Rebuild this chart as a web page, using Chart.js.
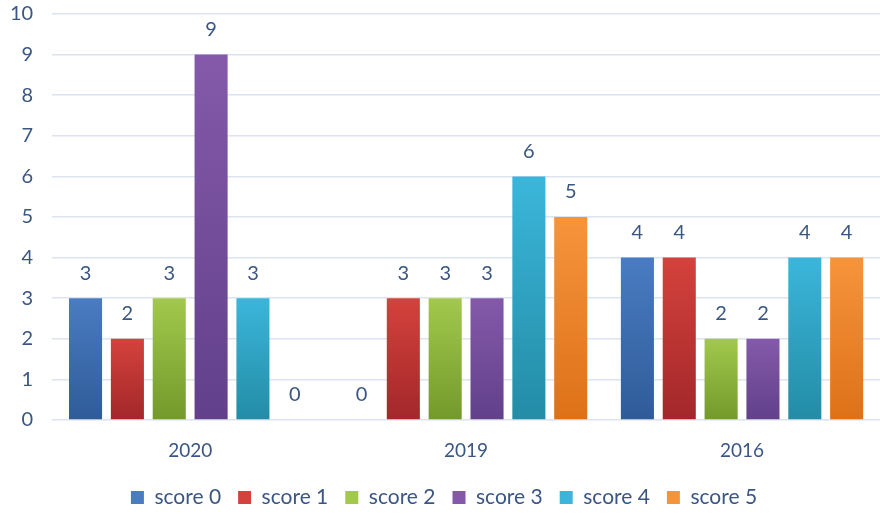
<!DOCTYPE html>
<html lang="en">
<head>
    <meta charset="UTF-8">
    <title>Scores by year</title>
    <script src="https://cdn.jsdelivr.net/npm/chart.js"></script>
    <style>
        html, body { margin: 0; padding: 0; background: #fff; }
        #wrap { width: 880px; height: 514px; }
    </style>
</head>
<body>
    <div id="wrap"><canvas id="scoreChart" width="880" height="514"></canvas></div>

    <script>
        // Data
        const years = ['2020', '2019', '2016'];
        const seriesNames = ['score 0', 'score 1', 'score 2', 'score 3', 'score 4', 'score 5'];
        const score0 = [3, 0, 4];
        const score1 = [2, 3, 4];
        const score2 = [3, 3, 2];
        const score3 = [9, 3, 2];
        const score4 = [3, 6, 4];
        const score5 = [0, 5, 4];

        // top / bottom shades for the bar gradients
        const topColors = ['#4a7cc2', '#d4423c', '#a2c94c', '#8459aa', '#3bb6da', '#f6943c'];
        const bottomColors = ['#2f5b98', '#a3272a', '#73992b', '#62408a', '#238ca6', '#dd7118'];

        const textColor = '#3a5683';
        const fontFamily = 'Lato, "Open Sans", sans-serif';

        function barGradient(ctx, i) {
            const chart = ctx.chart;
            const area = chart.chartArea;
            if (!area || ctx.parsed === undefined) return topColors[i];
            const yScale = chart.scales.y;
            const top = yScale.getPixelForValue(ctx.parsed.y);
            const bottom = yScale.getPixelForValue(0);
            if (bottom - top < 1) return topColors[i];
            const g = chart.ctx.createLinearGradient(0, top, 0, bottom);
            g.addColorStop(0, topColors[i]);
            g.addColorStop(1, bottomColors[i]);
            return g;
        }

        const allSeries = [score0, score1, score2, score3, score4, score5];
        const datasets = allSeries.map((vals, i) => ({
            label: seriesNames[i],
            data: vals,
            backgroundColor: ctx => barGradient(ctx, i),
            borderWidth: 0,
            barPercentage: 0.79,
            categoryPercentage: 0.91
        }));

        // value labels above each bar
        const valueLabels = {
            id: 'valueLabels',
            afterDatasetsDraw(chart) {
                const ctx = chart.ctx;
                ctx.save();
                ctx.font = '20px ' + fontFamily;
                ctx.fillStyle = textColor;
                ctx.textAlign = 'center';
                ctx.textBaseline = 'middle';
                chart.data.datasets.forEach((ds, di) => {
                    const meta = chart.getDatasetMeta(di);
                    meta.data.forEach((bar, idx) => {
                        ctx.fillText(String(ds.data[idx]), bar.x, bar.y - 25);
                    });
                });
                ctx.restore();
            }
        };

        const ctx = document.getElementById('scoreChart').getContext('2d');
        new Chart(ctx, {
            type: 'bar',
            data: { labels: years, datasets: datasets },
            options: {
                responsive: false,
                animation: false,
                layout: { padding: { top: 0, right: 0, left: 8, bottom: 0 } },
                plugins: {
                    tooltip: { enabled: false },
                    legend: {
                        position: 'bottom',
                        maxHeight: 44,
                        labels: {
                            color: textColor,
                            font: { family: fontFamily, size: 21 },
                            boxWidth: 13,
                            boxHeight: 13,
                            padding: 17,
                            generateLabels(chart) {
                                return chart.data.datasets.map((ds, i) => ({
                                    text: ds.label,
                                    fillStyle: topColors[i],
                                    strokeStyle: topColors[i],
                                    lineWidth: 0,
                                    fontColor: textColor,
                                    datasetIndex: i
                                }));
                            }
                        }
                    }
                },
                scales: {
                    x: {
                        grid: { display: false, drawTicks: false },
                        border: { display: false },
                        ticks: {
                            color: textColor,
                            font: { family: fontFamily, size: 19 },
                            padding: 19
                        },
                        afterFit(scale) { scale.height = 50; }
                    },
                    y: {
                        min: 0,
                        max: 10,
                        grid: { color: '#dbe4f0', lineWidth: 1.5, drawTicks: true, tickLength: 17, tickColor: 'rgba(0,0,0,0)' },
                        border: { display: false },
                        ticks: {
                            stepSize: 1,
                            color: textColor,
                            font: { family: fontFamily, size: 20 },
                            padding: 2
                        }
                    }
                }
            },
            plugins: [valueLabels]
        });
    </script>
</body>
</html>
